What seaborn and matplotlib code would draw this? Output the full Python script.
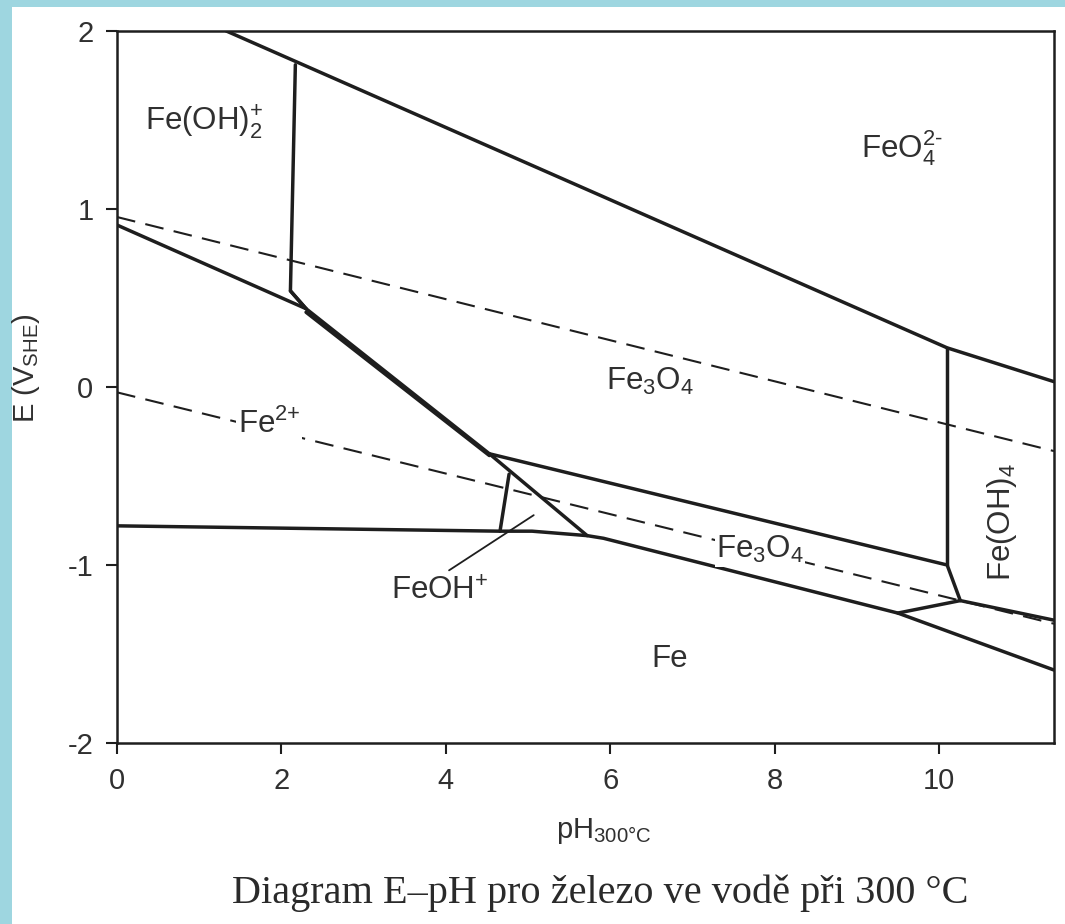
import matplotlib
matplotlib.use('Agg')
import matplotlib.pyplot as plt
from matplotlib.patches import Rectangle
import seaborn as sns

# boundary lines of the E-pH diagram (pH, E in V vs SHE)
feo4_ph = [1.33, 10.1, 11.4]
feo4_e = [2.0, 0.22, 0.03]

feoh2_ph = [2.17, 2.11, 2.30]
feoh2_e = [1.81, 0.54, 0.44]

fe2_top_ph = [0.0, 2.30]
fe2_top_e = [0.91, 0.44]

diag_ph = [2.11, 2.30, 4.53, 5.72]
diag_e = [0.54, 0.44, -0.375, -0.835]
diag2_ph = [2.30, 4.53]
diag2_e = [0.42, -0.385]

band_ph = [4.53, 10.1, 10.26, 11.4]
band_e = [-0.375, -1.0, -1.2, -1.31]

feoh4_ph = [10.1, 10.1]
feoh4_e = [0.22, -1.0]

fe_ph = [0.0, 4.66, 5.05, 5.72, 5.92, 9.5, 11.4]
fe_e = [-0.78, -0.81, -0.81, -0.835, -0.85, -1.27, -1.59]

link_ph = [9.5, 10.26]
link_e = [-1.27, -1.2]

feoh_ph = [4.77, 4.66]
feoh_e = [-0.49, -0.81]

pointer_ph = [4.04, 5.07]
pointer_e = [-1.03, -0.72]

# water stability lines (dashed)
o2_ph = [0.0, 11.4]
o2_e = [0.955, -0.36]
h2_ph = [0.0, 11.4]
h2_e = [-0.03, -1.33]

x_ticks = [0, 2, 4, 6, 8, 10]
y_ticks = [-2, -1, 0, 1, 2]

sns.set_style('ticks')
plt.rcParams['font.family'] = ['Liberation Sans', 'DejaVu Sans']
plt.rcParams['mathtext.fontset'] = 'custom'
plt.rcParams['mathtext.rm'] = 'Liberation Sans'
plt.rcParams['mathtext.it'] = 'Liberation Sans:italic'
plt.rcParams['mathtext.bf'] = 'Liberation Sans:bold'
plt.rcParams['mathtext.sf'] = 'Liberation Sans'
plt.rcParams['axes.unicode_minus'] = False

ink = '#1e1e1e'
txt = '#303030'

fig = plt.figure(figsize=(10.65, 9.24), dpi=100)
fig.patch.set_facecolor('#9ed6e0')
fig.patches.append(Rectangle((12 / 1065, 0), 1, 1 - 7 / 924, transform=fig.transFigure,
                             facecolor='white', edgecolor='none', zorder=-10))

ax = fig.add_axes([117 / 1065, 1 - 743 / 924, (1054 - 117) / 1065, (743 - 31) / 924])
ax.set_facecolor('white')

solid = [(feo4_ph, feo4_e), (feoh2_ph, feoh2_e), (fe2_top_ph, fe2_top_e),
         (diag_ph, diag_e), (diag2_ph, diag2_e), (band_ph, band_e),
         (feoh4_ph, feoh4_e), (fe_ph, fe_e), (link_ph, link_e), (feoh_ph, feoh_e)]
for xs, ys in solid:
    sns.lineplot(x=xs, y=ys, sort=False, estimator=None, color=ink, lw=2.5, ax=ax)

sns.lineplot(x=pointer_ph, y=pointer_e, sort=False, estimator=None, color=ink, lw=1.3, ax=ax)

for xs, ys in [(o2_ph, o2_e), (h2_ph, h2_e)]:
    sns.lineplot(x=xs, y=ys, sort=False, estimator=None, color=ink, lw=1.5,
                 linestyle=(0, (9, 5)), ax=ax)

# region labels
fs = 22.5
ax.text(1.06, 1.49, r'Fe(OH)$_2^{\text{+}}$', fontsize=fs, color=txt, ha='center', va='center')
ax.text(9.55, 1.34, r'FeO$_4^{2\text{-}}$', fontsize=fs, color=txt, ha='center', va='center')
ax.text(6.48, 0.03, r'Fe$_3$O$_4$', fontsize=fs, color=txt, ha='center', va='center')
ax.text(1.85, -0.21, r'Fe$^{2\text{+}}$', fontsize=fs, color=txt, ha='center', va='center',
        bbox=dict(facecolor='white', edgecolor='none', pad=1))
ax.text(7.82, -0.915, r'Fe$_3$O$_4$', fontsize=fs, color=txt, ha='center', va='center',
        bbox=dict(facecolor='white', edgecolor='none', pad=1))
ax.text(3.92, -1.15, r'FeOH$^{\text{+}}$', fontsize=fs, color=txt, ha='center', va='center')
ax.text(6.72, -1.53, 'Fe', fontsize=fs, color=txt, ha='center', va='center')
ax.text(10.77, -0.76, r'Fe(OH)$_4$', fontsize=fs, color=txt, ha='center', va='center',
        rotation=90)

ax.set_xlim(0, 11.4)
ax.set_ylim(-2, 2)
ax.set_xticks(x_ticks)
ax.set_yticks(y_ticks)
ax.tick_params(direction='out', length=8, width=1.5, labelsize=21, pad=9,
               colors=ink, labelcolor=txt)
for sp in ax.spines.values():
    sp.set_visible(True)
    sp.set_linewidth(1.8)
    sp.set_color(ink)

ax.set_xlabel(r'pH$_{\mathrm{300°C}}$', fontsize=21, color=txt)
ax.set_ylabel(r'E (V$_{\mathrm{SHE}}$)', fontsize=21, color=txt)
ax.xaxis.set_label_coords(0.52, -0.103)
ax.yaxis.set_label_coords(-0.08, 0.527)

fig.text(600 / 1065, 1 - 893 / 924, 'Diagram E–pH pro železo ve vodě při 300 °C',
         family=['Liberation Serif', 'DejaVu Serif'], fontsize=29, color='#2a2a2a',
         ha='center', va='center')

fig.savefig('out.png', dpi=100, facecolor=fig.get_facecolor())
